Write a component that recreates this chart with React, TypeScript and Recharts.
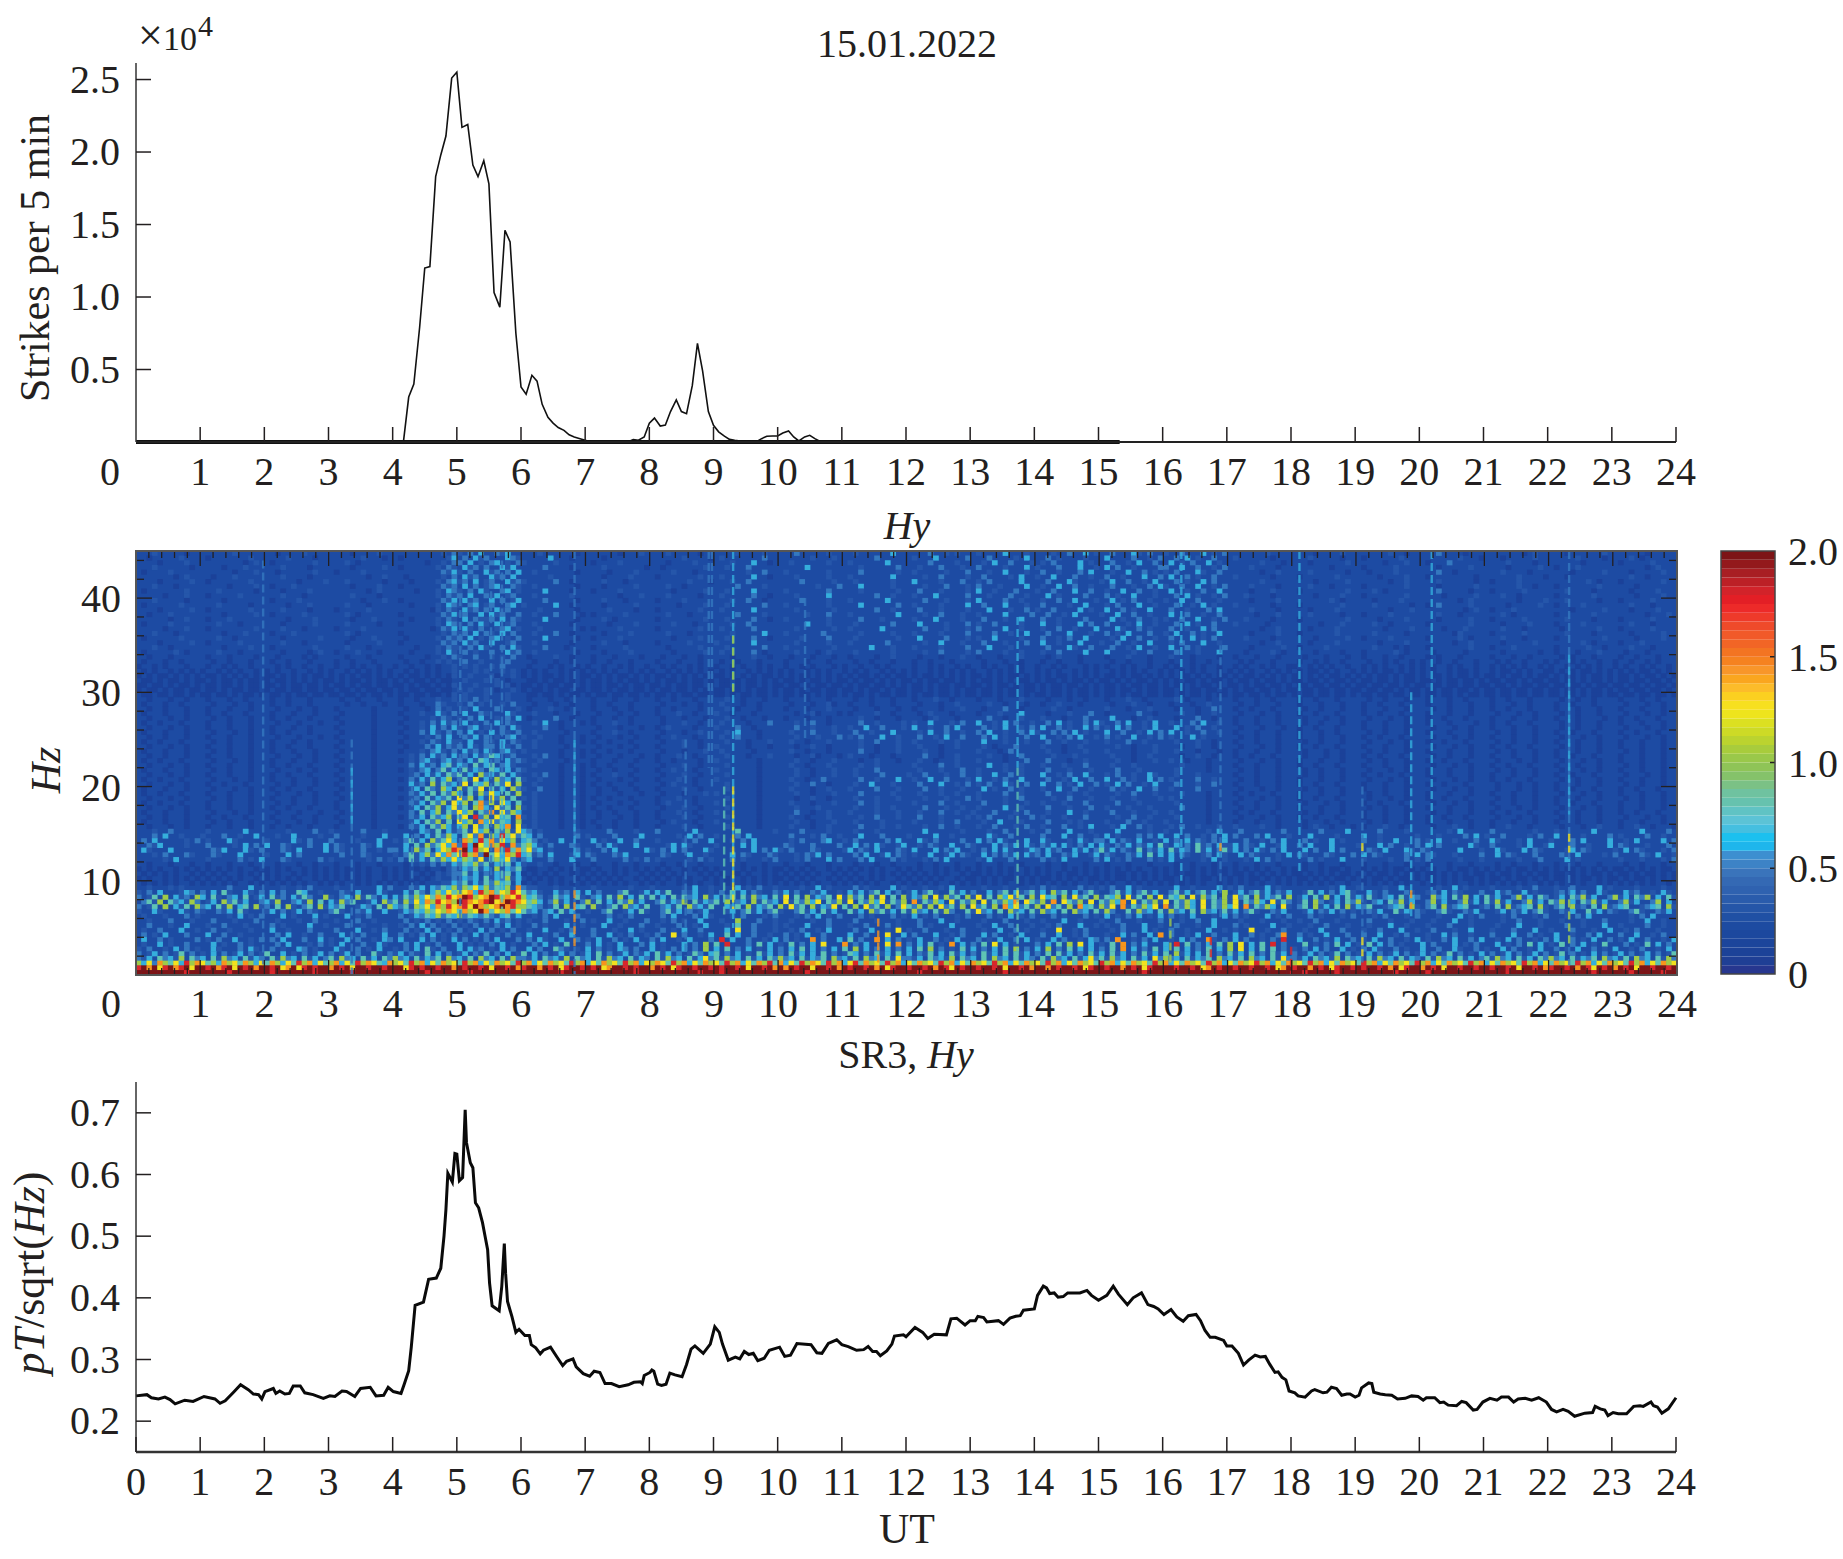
import React from 'react'
import { BarChart, Bar, LineChart, Line, ScatterChart, Scatter, XAxis, YAxis, ReferenceArea } from 'recharts'

// 5 min strike counts, x10^4
const strikeHours = [0, 4.08, 4.17, 4.25, 4.33, 4.42, 4.5, 4.58, 4.67, 4.75, 4.83, 4.92, 5, 5.08, 5.17, 5.25, 5.33, 5.42, 5.5, 5.58, 5.67, 5.75, 5.83, 5.92, 6, 6.08, 6.17, 6.25, 6.33, 6.42, 6.5, 6.58, 6.67, 6.75, 6.83, 6.92, 7, 7.08, 7.67, 7.75, 7.83, 7.92, 8, 8.08, 8.17, 8.25, 8.33, 8.42, 8.5, 8.58, 8.67, 8.75, 8.83, 8.92, 9, 9.08, 9.17, 9.25, 9.33, 9.42, 9.67, 9.75, 9.83, 9.92, 10, 10.08, 10.17, 10.25, 10.33, 10.42, 10.5, 10.58, 10.67, 15.33]
const strikeValues = [0, 0, 0.01, 0.31, 0.4, 0.79, 1.2, 1.21, 1.83, 1.98, 2.11, 2.51, 2.55, 2.17, 2.19, 1.91, 1.83, 1.94, 1.78, 1.03, 0.93, 1.46, 1.38, 0.75, 0.38, 0.33, 0.46, 0.42, 0.26, 0.17, 0.13, 0.1, 0.08, 0.05, 0.035, 0.023, 0.012, 0.002, 0.002, 0.016, 0.012, 0.035, 0.13, 0.165, 0.11, 0.117, 0.21, 0.29, 0.21, 0.195, 0.39, 0.68, 0.49, 0.21, 0.115, 0.07, 0.04, 0.018, 0.012, 0.007, 0.002, 0.023, 0.04, 0.041, 0.041, 0.062, 0.076, 0.035, 0.007, 0.035, 0.046, 0.023, 0.002, 0]
// the record stops here, the thick part of the base line
const floorHours = [0, 15.33]
const floorValues = [0, 0]

// SR3 amplitude
const srHours = [0, 0.17, 0.24, 0.35, 0.45, 0.53, 0.61, 0.76, 0.89, 1.06, 1.23, 1.31, 1.39, 1.52, 1.63, 1.75, 1.83, 1.91, 1.96, 2.01, 2.14, 2.18, 2.24, 2.32, 2.39, 2.45, 2.56, 2.63, 2.76, 2.92, 3.02, 3.1, 3.21, 3.28, 3.41, 3.5, 3.65, 3.74, 3.86, 3.93, 4.01, 4.13, 4.18, 4.25, 4.29, 4.35, 4.48, 4.56, 4.68, 4.75, 4.8, 4.83, 4.86, 4.93, 4.97, 5, 5.04, 5.09, 5.13, 5.15, 5.21, 5.25, 5.29, 5.34, 5.4, 5.44, 5.48, 5.51, 5.55, 5.66, 5.7, 5.74, 5.76, 5.79, 5.86, 5.92, 5.97, 6.06, 6.13, 6.16, 6.23, 6.3, 6.35, 6.46, 6.56, 6.65, 6.71, 6.81, 6.86, 6.97, 7.07, 7.14, 7.23, 7.31, 7.41, 7.53, 7.67, 7.76, 7.86, 7.89, 7.92, 8.01, 8.04, 8.07, 8.13, 8.19, 8.26, 8.32, 8.4, 8.51, 8.58, 8.65, 8.71, 8.84, 8.95, 9.02, 9.09, 9.14, 9.23, 9.34, 9.41, 9.48, 9.55, 9.62, 9.69, 9.79, 9.87, 10.03, 10.11, 10.2, 10.3, 10.52, 10.61, 10.69, 10.79, 10.92, 11, 11.1, 11.23, 11.34, 11.41, 11.48, 11.54, 11.6, 11.7, 11.78, 11.82, 11.96, 12, 12.14, 12.26, 12.34, 12.44, 12.63, 12.7, 12.79, 12.92, 13, 13.08, 13.12, 13.21, 13.26, 13.44, 13.52, 13.62, 13.71, 13.78, 13.83, 14, 14.05, 14.14, 14.19, 14.24, 14.31, 14.37, 14.45, 14.52, 14.71, 14.82, 14.89, 15, 15.13, 15.23, 15.31, 15.45, 15.54, 15.67, 15.77, 15.86, 15.93, 16.02, 16.13, 16.22, 16.32, 16.4, 16.52, 16.59, 16.66, 16.74, 16.82, 16.95, 17, 17.08, 17.18, 17.26, 17.34, 17.44, 17.52, 17.6, 17.67, 17.75, 17.8, 17.86, 17.92, 17.97, 18.06, 18.11, 18.22, 18.32, 18.37, 18.5, 18.56, 18.63, 18.71, 18.79, 18.87, 18.92, 19, 19.06, 19.1, 19.21, 19.26, 19.29, 19.39, 19.47, 19.57, 19.66, 19.78, 19.88, 19.98, 20.06, 20.11, 20.24, 20.32, 20.38, 20.45, 20.58, 20.66, 20.73, 20.84, 20.9, 20.99, 21.1, 21.21, 21.28, 21.39, 21.47, 21.54, 21.65, 21.75, 21.86, 21.98, 22.06, 22.14, 22.24, 22.32, 22.42, 22.58, 22.7, 22.74, 22.82, 22.89, 22.94, 23.02, 23.1, 23.23, 23.34, 23.44, 23.49, 23.61, 23.65, 23.71, 23.78, 23.88, 24]
const srValues = [0.241, 0.243, 0.238, 0.236, 0.239, 0.235, 0.228, 0.234, 0.232, 0.24, 0.236, 0.229, 0.233, 0.247, 0.259, 0.251, 0.244, 0.243, 0.236, 0.248, 0.253, 0.245, 0.249, 0.244, 0.245, 0.257, 0.257, 0.246, 0.243, 0.237, 0.241, 0.24, 0.249, 0.248, 0.24, 0.253, 0.255, 0.241, 0.242, 0.255, 0.248, 0.245, 0.26, 0.282, 0.32, 0.388, 0.393, 0.43, 0.432, 0.448, 0.5, 0.543, 0.602, 0.588, 0.634, 0.633, 0.59, 0.595, 0.705, 0.652, 0.619, 0.611, 0.554, 0.546, 0.522, 0.5, 0.478, 0.424, 0.387, 0.379, 0.418, 0.488, 0.44, 0.394, 0.369, 0.344, 0.349, 0.339, 0.339, 0.324, 0.319, 0.309, 0.315, 0.32, 0.304, 0.29, 0.297, 0.301, 0.288, 0.277, 0.273, 0.281, 0.279, 0.261, 0.261, 0.256, 0.259, 0.263, 0.264, 0.261, 0.274, 0.279, 0.283, 0.281, 0.26, 0.258, 0.26, 0.278, 0.275, 0.272, 0.292, 0.317, 0.322, 0.31, 0.325, 0.353, 0.344, 0.325, 0.299, 0.304, 0.301, 0.313, 0.308, 0.31, 0.298, 0.302, 0.315, 0.32, 0.305, 0.307, 0.326, 0.324, 0.311, 0.31, 0.326, 0.332, 0.324, 0.321, 0.315, 0.316, 0.321, 0.313, 0.313, 0.306, 0.314, 0.325, 0.338, 0.34, 0.337, 0.352, 0.344, 0.334, 0.341, 0.34, 0.366, 0.367, 0.356, 0.363, 0.363, 0.37, 0.368, 0.361, 0.363, 0.357, 0.367, 0.37, 0.371, 0.38, 0.382, 0.404, 0.419, 0.416, 0.407, 0.408, 0.401, 0.402, 0.408, 0.408, 0.412, 0.404, 0.396, 0.404, 0.419, 0.406, 0.389, 0.4, 0.408, 0.389, 0.386, 0.382, 0.373, 0.381, 0.369, 0.362, 0.371, 0.373, 0.363, 0.347, 0.336, 0.336, 0.331, 0.322, 0.322, 0.31, 0.291, 0.299, 0.307, 0.304, 0.305, 0.292, 0.279, 0.28, 0.271, 0.267, 0.249, 0.246, 0.241, 0.239, 0.249, 0.251, 0.246, 0.247, 0.255, 0.253, 0.242, 0.244, 0.244, 0.239, 0.242, 0.254, 0.262, 0.261, 0.247, 0.244, 0.243, 0.242, 0.236, 0.237, 0.241, 0.24, 0.234, 0.238, 0.238, 0.23, 0.231, 0.226, 0.225, 0.232, 0.23, 0.218, 0.219, 0.231, 0.237, 0.234, 0.239, 0.239, 0.231, 0.236, 0.237, 0.234, 0.238, 0.231, 0.219, 0.215, 0.219, 0.216, 0.208, 0.213, 0.214, 0.224, 0.22, 0.218, 0.209, 0.214, 0.212, 0.212, 0.224, 0.225, 0.224, 0.231, 0.225, 0.223, 0.213, 0.22, 0.238]

const colorbarBands = ['#27378f', '#1f3f95', '#1c4298', '#1c459b', '#1c489e', '#1d4ba1', '#2050a4', '#2556a8', '#2a5cac', '#2f62b0', '#3469b4', '#3a74bb', '#3d83c6', '#3d8fd0', '#1eb6ec', '#1cc0ef', '#45bfe0', '#5cc3d6', '#60c3c4', '#66c2ae', '#6fc2a0', '#7bc185', '#85c26a', '#8fc457', '#9ac84a', '#a8cc3c', '#bbd32f', '#cdda26', '#dce021', '#eee41d', '#f7e01f', '#fbd020', '#fcbc2a', '#faa61f', '#f8962a', '#f58220', '#f37422', '#f26526', '#f15a29', '#ef4a2a', '#ee3a2a', '#ed2a29', '#e31f26', '#d2232a', '#bc2026', '#a81e23', '#93191c', '#7d1416']
const levelColors: Record<string, string> = { '0': '#1b4199', '1': '#1d4ba3', '2': '#2556aa', '3': '#3478bf', '4': '#35aedc', '5': '#5fc3b4', '6': '#9fcb48', '7': '#f2e21e', '8': '#f7941d', '9': '#d9262a', a: '#7d1416' }

// spectrogram levels read by eye: one row per 0.5 Hz from 45 Hz down, one group per hour, 5 min per char
const heatRows = [
  // 45 - 32 Hz
  '111211111011 111111211111 110111121111 111101111211 111111111213 213141132411 111211111101 111111011121 111211111011 111121111211 111311111211 112111111411 111131121211 121111411121 111211311412 113111421311 211311141213 111111121111 111101111211 111111211011 111311110111 111111101211 111011111121 111111011111',
  '110111112111 101111111211 111121111011 111111211101 101111111124 131423111432 111114111011 111011111111 111111211110 121111111311 111111211121 111111311111 121114111113 111311112141 113121111211 141111311213 113141211311 121111110111 111211111011 101111112111 111111121110 111011111211 111112111101 111210111111',
  '111101111211 111111110121 101111111211 111210111111 111111011213 314121341213 211111211111 101111211111 111011112111 111211141101 112111111211 121111114111 111131111211 112141131112 121311114121 113112141131 141213114121 111111211101 111011111121 111110111211 101113111111 111121111011 111111011111 101111121111',
  '111211111101 111101112111 111211110111 111101111121 101111112132 142313114241 111131111011 111211111110 110111111121 112111311111 111114111111 111211111131 112111311121 131111211141 211131114112 141311211113 311411311213 111121111011 111111101111 101111121111 111011111211 111101111121 101112111111 111111012111',
  '101111211111 111111011121 110111111211 101111211111 111111111324 213114231314 112111111101 111101111211 111121110111 111111211311 121111111211 111311111121 121111121113 111211411121 131121113141 112114113121 213111421131 111111011211 111211111101 110111121111 111311011111 111211110111 111101111121 111011111211',
  '111111101211 110111211111 111211110111 111111101121 110111111213 142311423141 111112111111 111011112111 101111111211 121111141101 111211111211 121111111411 111211311112 113111121411 211411131121 131121114113 141131211311 121111110111 101111112111 111101111211 101111111101 111111211110 111011111111 111211011111',
  '111101111121 101111111211 111111011112 111211111101 111011112134 231412311423 211111311011 111211101111 111111121110 111211311111 111131111121 112111111211 141111211131 121311111411 113111421111 214113112141 113121141311 111111211111 111101111121 111111011211 111211111101 101111211111 111111121011 101111111211',
  '111211101111 111110111121 101112111111 111101111211 101111111323 141312341132 112111111101 111011111211 111211011111 111131111211 111111121113 111411111211 111211131112 131112111141 121141131121 113111211314 211311411213 111121111011 111211101111 101111111211 111011111121 111111211011 101111111211 111101111111',
  '101111111211 111211111101 111011112111 111111101211 111101112143 213142113412 111141111011 101111211111 111101111121 112111141111 121111111311 111211111121 113111211112 141121113111 211311141131 121141131121 141121131141 111101112111 101111111121 111210111111 111311111011 101111121111 111211110111 111011112111',
  '111110111211 101111121111 111211101111 111121111011 111111112132 314113241231 112111111211 111111011121 111211111011 121111131101 111211111411 111111311211 121114111113 111211131121 114121111311 131211411121 113141211213 111211110111 111101111211 101111111211 111101111121 111211011111 101111112111 111101111211',
  '111211111011 111101111111 101111211111 111111011121 101111111324 142311413124 111131111101 111211101111 101111211111 111211311011 111131111211 121111114111 111311121112 141111311211 121131141112 114121311211 211411311121 111101111211 111111121011 111011112111 111111101211 111111011112 111211111011 101111121111',
  '101111112111 111211111011 111101112111 111211101111 111011112143 213412311341 211111411011 111011111211 111110111121 112111111311 121111111211 111411111131 121111211114 113111411121 131111211411 121311141121 113112141211 121111110111 101111111211 111211111101 101311111211 111101111121 101111211111 111211101111',
  '111101111121 101111111211 111211110111 101111121111 111111102132 142313142311 111211111101 111121111011 101111111211 121111141111 111211111121 111111311211 113111211112 111411121131 211311114121 141131211411 131121113141 111121111011 111011112111 111111011121 111111110121 101112111111 111101111121 111011112111',
  '110111211111 111101111121 101111121111 111210111111 101111111324 231141423113 112111311110 101111121111 111211101111 111131111211 111112111311 121111111141 111211311121 121111411113 113112141111 211411311211 141131121131 111110111211 111211111011 101111211111 111211101111 111210111111 101111112111 111111011121',
  '111111011211 101112111111 111101111211 111101112111 111011112132 141322314132 111141111101 111210111111 101111111121 112111131101 121111111211 111311121111 121114111121 113111211411 131121111311 114121131121 211311411213 111211110111 101111111121 111101111211 111011111211 101111121111 111211110111 101111121111',
  '101111211111 111211101111 111011111211 111211111011 101111112143 213142141231 112111111011 111101111211 111121110111 111211311111 111114111211 112111111311 114111121113 121131111211 141121114131 131112141121 113141211311 121111101111 111110111211 111211011111 101111111211 111011112111 101111211111 111211101111',
  '111110111211 101111111121 111211101111 101111211111 111111101324 142131123412 111211111110 101111211111 101111111211 121111131111 111211111121 121111141111 111311121112 131111411211 121131121114 111421131211 131121141311 111111011211 111011112111 111110111121 111101112111 111211101111 110111111211 101111121111',
  '111211101111 111101112111 101112111111 111210111111 101111111213 231413214131 112111311011 111011112111 111211101111 111211111411 121111113111 111211111211 121111211113 111131121141 113111411121 131214111311 214113121141 111101111211 101111112111 111211111011 111111021111 101111121111 111211110111 111011111211',
  '101111112111 111211011111 111011111121 111101112111 110111112132 314121341213 111141111101 101111211111 111101111211 112111131101 111121111311 112111111121 114111131112 121141111211 131121311411 112141131121 131114121311 111211110111 111101111121 101111211111 101111121011 111211101111 101111111121 111101111211',
  '111101111121 101111121111 111211101111 111011111211 101111111323 142311411231 112111111011 111211101111 101111121111 211111141111 111211111211 121111113111 111211411121 113111211131 141121114111 211311211411 121311141121 111111011211 111011112111 111101111211 111111011211 111011111211 111111210111 101112111111',
  '111211011111 111101111211 101111111211 111211101111 111101112132 213142113142 111131110111 101111121111 111011111211 112111111311 121111111121 111114111211 121111211113 111411121111 113111421131 113112141121 141131211113 111101111121 101111211111 111211101011 101111111211 101112111111 101111121101 111211101111',
  '101111121011 111211101111 111011110121 101112111011 111011112142 131211311423 112111111101 111011112111 111101111121 121111131011 111211101211 112111111211 111211311112 131111211211 121131111411 141111211311 113111211141 111011112101 111101111011 101111121011 110111110111 111011111101 101110111211 110111011111',
  '110111011111 101110111101 110111101011 111011101111 101111011213 211311212131 101111211011 101110111101 110111011011 111011121101 110111011101 101111011211 110111011121 101110111211 110121110111 101112111011 121110111101 101110111011 110111011101 101110110111 101011101111 101110110111 110101110111 101101110111',
  '101110110111 110110111011 101101110111 101101110111 110110112121 131121112311 110111011011 101101110111 101110111011 101101110111 101110111011 110110111011 101101110111 110111011011 101101110111 110110111011 101110110111 110101110111 101101011011 110110101101 011011011101 110101101110 101101011011 011011010111',
  '011010111011 101101011011 110101101101 101101011011 011011010112 121211213111 101110101101 011011010110 110101101011 011010110101 101101011101 011011010111 101101011010 110101101011 011010111010 101101011011 010110101101 101011010110 011010101101 101010110101 010110101101 101010101101 011010101011 010110101101',
  '101011010101 011010101101 010110110101 011010101010 110101010112 111212112121 010101101010 101010110101 011010101010 101011010101 010110101011 010101101010 101101010101 011010101011 010101101010 110101010110 101010101101 010101101010 101001010110 101010010101 010110100101 101001010110 010101001010 101010010101',
  // 32 - 29.5 Hz
  '010100101010 100101010101 001010101001 010101001010 101001010102 112111201121 010100101010 010101001010 100101010101 001010101001 010100101010 101001010100 101001010101 001010100101 010100101010 100101001010 101001010100 101001010101 001010100101 010100101001 010010100101 001010010100 101001010010 100101001010',
  '100101001010 010100101001 010010101010 010100101001 010100101001 121112121011 100101001010 100101010010 101001010010 100101001010 100101001010 010100101010 010100100101 010010101001 010010100101 001010100101 010100101001 010010100101 001001010010 100100101001 001010010010 100100101001 001001010010 100100100101',
  '001001010010 100100101001 001010010010 100101001001 001010010102 111211121201 001010010010 100100101001 001010010010 100101001010 010010100100 101001001010 100101001001 001010010100 101001001010 100101001001 010010100101 001010010010 100100100101 001001001010 010010010010 010010100100 100100101001 001001010010',
  '010010100100 100101001001 010010010010 010010100100 101001001001 212112101121 010010100100 100101001001 010010010101 001001010010 100101001001 001010010100 100101001010 010010100100 101001010010 100100101001 001010010010 101001001010 010010010010 010010010100 100100100101 001001001001 001001010010 100100100101',
  '100100100101 001001010010 100101001001 001001010010 100100100102 121112111211 100100101001 010010010010 100101001001 001010010010 100100101001 010010100100 101001001010 010010100101 001001010010 100101001001 001010010100 100100101001 010010010010 100100100100 100100101001 001001001001 001001010010 010010010010',
  // 29.5 - 27 Hz
  '110111011011 101110110111 101101110111 110110111011 101101112112 121312111211 101110110111 101110111011 101101110111 112110111011 101110111011 110110111011 101112110111 101110111211 110111011011 101112110111 112101110111 101110110111 101101110111 110110111011 101110110111 101101110111 110110110111 101110110111',
  '101110110111 110111011011 101101110111 111011011101 101110113211 213121112131 110111011011 101101110111 110111011011 121110110111 110111011201 101110111011 110111011211 111211011101 101121110111 110111211011 101110112111 110110111011 101110111011 101101110111 101110111011 101110110111 101101110111 110111011011',
  '110110111011 101110111011 110111011011 101111110111 110111013121 121411131112 101112110111 101110110111 101101111011 112101110111 101110111211 110111011101 101111011121 110111311011 111211011111 121110111211 110111011311 101101110111 110110111011 101110111011 110110111011 101101110111 101110111011 101110111011',
  '101110111011 101101110111 101110111011 110111110111 101112114213 141132111421 112111011101 110111011011 101112110111 211011101111 111011201110 101111211011 110121110111 101112111411 110111211131 101111131101 111211011211 110111011011 101101110111 101101110111 101110111011 110111011011 110110111011 110111011011',
  '110111011011 110110111011 101101110111 101111110111 110111121321 213141121314 101111311011 101110110111 110111011101 112110111011 101110111011 111211011101 111012111011 111311011211 121110111311 114111011211 110111311011 101110111011 110111011011 110111011011 101101110111 101110111011 101110111101 101101110111',
  // 27 - 24.5 Hz
  '101101110111 101110111011 110111011101 110111110111 101112131423 141213141321 112141101110 101112110111 110111211011 121111011131 111211311011 111311211112 121141112131 141121413112 113141211314 211314112141 121113141121 101110111011 110110111011 101110111011 101110111101 101101110111 110110111011 101110111011',
  '110111011011 101110111011 101110110111 101111110111 110112141314 213412113142 111131101111 110111011101 101211110111 211131101111 111311211121 121141131112 141121131411 113121411213 141131211413 121413112141 114121311211 110111011101 101101110111 101110111011 110111011011 101110111011 110110111011 110111011011',
  '101110111011 110111011011 101101110111 110111110111 101113142131 314121413213 112111110111 101112110111 110111011211 112141110111 112111311121 113112111411 112141131121 131411211314 211313141211 141131121413 141121131121 101110111011 101110110111 110110111011 101110111011 110110111011 101101110111 101101110111',
  '110110111011 101110111011 110111011101 101111110111 110111213141 132413121341 211211101110 110111011011 101121110111 121131110111 111211121113 121311141121 113112141131 113141211131 141121314112 131211411213 121114121111 110110111011 101110111011 101101110111 110111011011 101110111011 110111011011 110111011011',
  '101101110111 110110111011 101110110111 110111110111 101112132142 214113214132 112111101110 101101110111 110111211011 112111011121 112110111211 111211311121 121111211211 114111211121 113112111211 121113112111 112111211011 101110111011 110110111011 110111011011 101101110111 110110111011 101110111011 101110111011',
  // 24.5 - 21.5 Hz
  '110111011011 101110111011 101101110111 101111110111 110111314132 314213314213 112111110111 110111011011 101111211011 211111011101 111011211011 111211011121 112111011211 112101113111 121110112111 111211011121 111011211011 110111011011 101101110111 101110111011 110111011011 101101110111 110110111011 101110111011',
  '101110111011 110110111011 101110111011 110111110111 101112134213 142314213421 211111101110 101101110111 110111011121 121111101111 112110111011 111311011121 111211011111 121110131111 112110111211 121111011121 112111011101 101110111011 110111011011 110110111011 101110111011 110110111011 101110111011 110110111011',
  '110110111011 101110111011 110111011011 101111110111 111213142314 231423541231 112131101110 110111011101 101112110111 112111011121 111011201110 121110111011 111311011211 111211011311 111211121111 112111011211 111011211011 101101110111 110111011011 101101110111 110110111011 101110111011 101101110111 101110111011',
  '101101110111 110111011011 101110111011 110111110111 101213421342 314254231423 211211110111 101110111011 101101111011 211111110111 111211011121 111011211101 112110111211 121111011131 113111011211 111211011121 121101110111 110111011011 101110111011 110110111011 101101110111 110111011011 110111011011 101110111011',
  '110111011011 101110111011 101101110111 101111110111 111314231452 431524513421 112111101110 101101110111 110111211011 112111110111 112110111211 111211211111 121111311211 111411211211 121112111311 112111211111 111211110111 101110111011 101101110111 101110111011 110111011011 101101110111 101110111011 110110111011',
  '101110111011 110110111011 110111011011 110111110111 101213413524 152431542413 211111101110 110110111011 101121110111 211111110111 111211011121 112111311111 112111211131 121111211211 113111211121 111311121111 112111110111 110110111011 110110111011 110111011011 101110111011 110110111011 110111011011 101110111011',
  // 21.5 - 19 Hz
  '110111011011 101110111011 101101110111 101111110111 111231424253 524163425142 112131101110 101112110111 110111211011 112111110111 111211011121 112111131111 211311121131 121141131211 141121311411 121311211421 112111211111 101110111011 110110111011 101101110111 101110111011 101110111011 101101110111 110111011011',
  '101101110111 110111011011 101110111011 110111110111 101314252461 352714263415 211211101110 110111011011 101112110111 211111110111 112110113111 111311211141 121141131112 141121311411 113112141131 141131211413 121111311211 110110111011 101110111011 110111011011 110111011011 101101110111 110110111011 101110111011',
  '110111011011 101101110111 110110111011 101111110111 111423162534 271546253716 112111101110 101101110111 110121110111 112111110111 111211311011 112114111211 113111411213 121311421131 141131214113 121413112141 113111211311 101110111011 101101110111 101110111011 101101110111 110111011011 101110111011 110110111011',
  '101110111011 110111011011 101101110111 110111110111 101241532641 625371524163 211311101110 110110111011 101111211011 112111110111 112111011211 121111311121 111311211121 114121131211 121141131121 113121141131 121111311111 110111011011 110110111011 101110111011 110111011011 110111011011 101101110111 101101110111',
  '101101110111 101110111011 110111011011 101111110111 111324251536 415263741526 112111101110 110111011101 110111011121 211111110111 111211011121 111311111211 112111211211 121111311211 113111211211 111211311121 111211110111 101101110111 101110111011 110110111011 101110111011 101110111011 110111011011 101110111011',
  // 19 - 15.5 Hz
  '110111011011 110110111011 101110111011 110111110111 101231524352 736142736251 212111101110 101101110111 101112110111 112111110111 111011211011 112111211121 111211121113 121111211311 111211311121 112111211112 121111110111 110111011011 101101110111 110111011011 101101110111 110110111011 101110111011 110110111011',
  '101101110111 101110111011 110110111011 101111110111 111324153627 461583627415 112111101110 110111011011 101211110111 211111110111 112111011121 111311211111 121111311211 113111211121 121112111311 111311121111 112111110111 101110111011 110111011011 101101110111 110111011011 101110111011 101101110111 101110111011',
  '110111011011 101110111011 101101110111 101111110111 101241536247 351684273516 212111101110 101101110111 110111211011 112111110111 111211121111 112111211211 111311121121 121111411211 113111211131 121112111211 111311110111 110110111011 101110111011 110110111011 101110111011 110111011011 110111011011 101110111011',
  '101110111011 110111011011 110111011101 110111110111 111315246253 746153827364 112111101110 110110111011 101112110111 211111110111 111311011211 121111211121 112111311211 211131112131 112111411211 113111211121 121111110111 101101110111 110110111011 101110111011 110110111011 101101110111 101110111011 101101110111',
  '110110111011 101101110111 101110111011 101111110111 101324153462 571936274518 212111101110 110111011011 101111211011 112111110111 112110111211 111211311121 113111211112 121311121113 121112111311 111211311211 112111110111 110111011011 101101110111 101110111011 101101110111 110111011011 110110111011 110111011011',
  '101110111011 110110111011 110111011011 110111110111 111241536251 746284735416 112111101110 101110111011 110121110111 211111110111 111211011121 112111121111 121111211311 112114111211 113111212111 121113112111 211111110111 101110111011 110111011011 110110111011 101110111011 101110111011 101110111011 101110111011',
  '110111011011 101110111011 101101110111 101111110111 101324153642 461735264817 212111101110 110110111011 101111211011 112111110111 112111011211 111311121121 111211311211 121131112131 121113112141 112141131211 121311211121 121111211011 110121101110 101112110111 110111211011 101121110111 110111011211 101121101110',
  // 15.5 - 12 Hz
  '111211311111 121111114111 111121111311 211111311121 111114325142 352746153627 431211111121 111131111211 131111114111 111151111112 111131111211 112111211111 111411111121 111211311112 113111411121 111411111211 211111112141 113111111131 111113111141 111131111211 111112141111 131111111211 121111114111 111114111131',
  '111314112111 211131121141 112114111121 131111211141 114131425364 157382649573 541311111131 211113111141 111112141311 211131411111 113111213112 111411131111 211114112111 111421131111 131114113112 141211131314 114131121314 131113141112 111411112111 141121111112 111211113141 211311112131 141111211113 121111311211',
  '131411111213 121114211111 211114213111 311112111411 213524163574 286495837462 453121141111 141211411311 121111213114 111213141111 112131113411 213111113141 114213111131 141314211141 142111214213 314132141121 413141321314 111311213141 113121141211 131121141113 121411211131 142111214111 211131411114 112141111413',
  '113241111211 131111214131 411321113114 132111321411 114152635748 394a75869283 564213111321 113142111411 111241421111 211114141111 132111311113 114131421124 112132114113 211141324142 132414213141 421324132415 214131523142 241321411241 131411141111 211141311213 141311111421 131111214112 411131121114 132111211131',
  '142111411111 113241114213 111321411114 132111311213 314263514769 8a4967283958 573412111131 211314111114 213141311142 111211141314 213111321111 241321411132 141114132411 213141421124 314231142413 524132151324 152431524135 241314213141 114131141311 113214111421 321111141112 114211141321 111241321111 214132111213',
  '111213111321 113211141111 211141311111 113111321111 213524637485 79683a574869 452314111241 321113241111 113211141121 111413211132 111213241311 113141124132 121141124132 114131324142 314113241124 132113241514 141321123142 114132111214 132111321113 141321111314 132111211113 114132111311 113214111121 311113214112',
  '111112141111 121111131214 111321111131 211111121312 131524253647 465372564731 341113111411 131111131213 121111121312 111312111213 111213111413 111314111312 111213141111 121411131111 131214111113 141213111312 141111121412 111214131211 111312111411 121111211312 131111121112 111111211131 111412111111 121112111213',
  // 12 - 9.5 Hz
  '110111011101 101110111011 110111011011 101110111011 110112131324 354635243514 211211011101 101110111011 110110111011 111110111011 101110111011 110111011011 110110111011 101110111011 110110111011 101110111011 110110111011 101110111011 110110111011 101110111011 101110111011 110110111011 101110111011 110110111011',
  '010101101010 101010101101 010101101010 101010101101 010101011023 243524162435 100110101010 010110101010 101011010101 011110101010 010101011010 101010101101 010110101010 101010101101 010110101010 101010101101 010110101010 101010101101 010110100101 101010100101 010110100101 010101001010 101001010101 001010101001',
  '101010101101 010101101010 010110101010 101010101101 010110102123 352413243514 010101011010 101010101101 010101011010 101101011010 101010101101 010110101010 101010101101 001010101101 010101001010 101001010101 010100101010 100101010101 001010101001 010100101010 100101010100 101001010100 100101010010 100101001010',
  '010110101010 101010101101 010101011010 101010101101 010101012113 243415243624 101010101101 010101011010 101010101101 010110101010 010101011010 101010101101 010101011010 010101001010 100101010100 101001010101 001010100101 010100101010 100101010010 101001010010 100101010010 100101001010 100101001010 010100101010',
  '101010101101 010101011010 101010101101 010110101010 101010111224 352425364514 010110101010 101010101101 010110101011 010110101010 101010101101 010101011010 101010110101 010101011010 101010101101 010110101010 101010101101 010101011010 101010101101 101010101011 010101011010 101010101101 010101011010 101010101101',
  // 9.5 - 6 Hz
  '112111212111 111113111411 111211213111 121111111413 111324143546 365746354628 322111211111 121111112111 211111214112 111141213112 111121141211 113121111412 111211214111 112111211112 131211113121 213114121111 114112111141 213111141211 111111121411 211112114111 111211412111 121111211311 121131111412 111121111211',
  '213141112431 314152114213 141311541121 113214111421 114253146475 678496857697 534211423141 413111351124 142511324112 131514132113 241311324112 142413514131 241352115241 311413514235 241635141352 113524135241 135241352416 124135241324 112514131452 114213111321 123141321113 114231141211 123141311421 114231121421',
  '312516142316 415213415124 152314253116 213416253141 425364758697 8a9678a96879 645312534152 134152614152 514152534162 413515263415 271516243517 263516271516 243617263516 271516473516 274516273516 254617251617 254617263516 273516243516 124152614152 415213415243 116341526141 524113624153 124153624113 624153614152',
  '135261534263 124163524113 426113426151 426351124163 526374869786 a98789a78a98 756413624113 625141536241 135243615243 516134162534 172536471536 271536472536 182536417253 617253648175 362817536271 536481725362 715364172536 271536417253 125163124153 621341536241 136241136241 526241136241 536141536241 136241136141',
  '312516142516 341526145162 315162135162 435112431526 435265748697 897a8678a896 654312516145 162135163425 113425163425 114351624351 627351624371 526173526137 536261735261 735261847352 617352618452 637182536471 825364172536 471825364172 135162415162 435112345162 135162345112 315162345162 135162315162 345112345162',
  '211421114213 211324152111 241312413211 352113241141 124354657687 5867a8576857 534134152411 211351124152 113524131241 112413524135 211352415241 152416352415 263415263115 273415163415 263415163415 263115263415 263415163415 241352113241 112413241312 113241152413 211352113241 112413241352 113241152413 211352113241',
  '121112111312 111112141213 111412111412 111412131111 131243546354 635435324524 112131411131 111131213111 113141113142 111213111213 111213141213 111312111312 141213111213 111312141213 111312111312 141213141214 131214111214 131211141213 111312111213 111213111213 111211141213 111213111213 111213141111 111213141111',
  // 6 - 2 Hz
  '112111311121 113111211131 112111211311 121113112111 113121312131 213213142312 121131112113 121141121113 112131211411 121161113112 112111211311 113111211121 113111411211 112111311121 121114112111 211311121113 111211311411 112111211121 121131112111 113111211121 112111411211 111211311121 112111211131 111211411211',
  '113111211411 121131112111 131211114112 111311211121 121314131213 121312131412 113121114112 111411211131 121113112141 112151131112 121114111311 121131113121 113121114111 121141131112 112131114112 121131114112 113111211411 131211114112 111211311121 112111411211 121113111211 112111411121 111311211141 121111311211',
  '121131114112 113112111211 141121113111 131114112131 113121413121 312141312131 121141121311 131112114121 113121411311 114171131112 112131121411 113114112171 211311121131 112114113121 121171121311 112131114121 131121114112 121171121131 112114111311 121131114112 113111211411 121113111411 211131112114 112131112111',
  '131214111311 141131121111 113141121131 114121311141 131213141213 121413121312 141121311411 131141213112 131171311214 115141131121 131214113111 141131117114 131114112131 114131121411 131141121311 121141311418 131121411311 141131211381 131211411131 131141121311 121141311211 131114113121 141121131411 131141121311',
  '141131211113 121311411213 131411131141 211413112143 141114131214 131213141113 131421141131 214113121411 314112141113 191411311214 131211813114 151311814131 214113121411 131214113141 211413112143 131811213141 121413118213 141311213191 141131214113 121411311214 121131411314 112141311213 141131214113 121411311214',
  '121141211311 114121131211 113141112131 214111311421 113141213111 412121314121 113141215111 314121411131 412111413161 519111315141 215131417111 813141117181 314151218141 315171412111 314151617141 215181314111 419151314151 617141519131 115121315141 215141312111 413111412131 114121315141 215131412151 113121514131',
  '213112141312 114211131421 131211431211 142113121411 213141521311 414231214131 141311532121 413121431311 412131413161 415131412141 314151413141 516141314131 415161312151 413141516131 416131514141 315181413151 415141315141 617141515131 213141311412 131421131211 411311421131 211413112141 131214113121 411213112141',
  '312413125131 214131241312 511412131241 312413115213 241321514131 241325131412 514131241312 415131241324 152413125314 513141215241 315241415131 254131524151 413251415241 315241515241 315152413152 415241315241 516241415131 524151315241 312413125131 214131241312 413125131214 131241312413 125131214131 241312413125',
  // 2 - 0 Hz
  '324153426153 415263415243 152634152413 526341524153 634152435163 425163415263 324153426153 415263415243 152634152473 526341524153 634152435163 425163415273 324153426153 415263415243 152634152473 526341524173 634152435163 425163415273 324153426153 415263415243 152634152413 526341524153 634152435163 425163415263',
  '647386574968 756486758647 586475968475 684759687548 675968475867 596847586759 684758675968 475867596847 687596847586 759684758695 847596875968 479586759684 758675968475 867596847586 759684758675 968475867596 847586759684 758679684758 675968475867 596847586759 684758675968 475867596847 586759684758 675968475867',
  '9a8a79a89a7a a9a89a7a9a8a a9a78a79a9aa 8a9a7aa9aa9a aa79a9aa9aa8 a9aa9a7aa9a8 9aa8a9a79aa9 a9a78aa9a9aa 8a9a79aa9aa9 a9aa9a7aa9a8 a8a9aa7aa9a8 a9aa9a8a79aa 9aa9a8a97a9a a9aa9a7aa9a8 aa8a9aa9a79a a9aa8a9a79aa aa9aa9a78a9a a9aa9aa9a78a 9aa8a9a79aa9 a9aa9a8a79aa 8a9a7aa9aa9a a9aa9a7aa9a8 9aa9a8a97a9a 8a9a7aa9aa9a',
  'aaaaaaaaa9aa aaaaa9aaaaaa a9aaaaaaa9aa aaaa9aaaaaaa aaaaaa9aaaaa aa9aaaaaaaaa aaaaaaa9aaaa aaaaaaaaa9aa aaaaaaaaa9aa a9aaaaaaaaaa aaaaa9aaaaaa aaaaaaaaaaaa aa9aaaaaaaaa aaaaaa9aaaaa aaaaaaaaaaaa aaaaaaaa9aaa aaaaaaaaaaaa aaaaaaaaaaaa aa9aaaaa9aaa aaaaaaa9aaaa a9aaaaaaaaaa aaaa9aaaaaaa aaaaaaaa9aaa aaa9aaaaa9aa',
]

// thin vertical streaks: hour, from Hz, to Hz, level
const streakHours = [1.98, 3.36, 3.36, 4.3, 5.05, 5.53, 5.7, 5.7, 6.83, 6.83, 6.83, 8.56, 8.92, 8.97, 9.16, 9.3, 9.3, 9.3, 10.42, 11.56, 13.73, 13.73, 13.73, 16.11, 16.28, 16.74, 16.89, 16.89, 17.99, 18.12, 19.1, 19.1, 19.1, 19.86, 19.86, 20.18, 22.32, 22.32, 22.32, 22.32]
const streakFrom = [1, 0, 16, 9, 6, 10, 20, 7, 0, 12, 3, 2, 22, 20, 6, 5, 30, 7, 25, 1, 22, 2, 7, 1, 10, 1, 6, 13, 0, 11, 1, 13, 2, 6, 7, 9, 1, 17, 3, 13]
const streakTo = [44, 25, 22, 20, 40, 42, 44, 20, 45, 25, 9, 25, 45, 45, 20, 45, 36, 20, 40, 6, 38, 22, 9, 6, 45, 4, 35, 14, 3, 45, 20, 14, 4, 30, 9, 45, 45, 34, 8, 15]
const streakLevels = ['3', '3', '4', '3', '3', '3', '3', '5', '3', '4', '8', '3', '3', '3', '5', '4', '6', '7', '3', '8', '4', '5', '7', '6', '4', '9', '3', '8', '9', '4', '3', '7', '7', '4', '8', '4', '3', '4', '6', '7']

const hourLabels = Array.from({ length: 25 }, (_, i) => i)
const minorHours = Array.from({ length: 121 }, (_, i) => i / 5)
const strikeTicks = [0.5, 1, 1.5, 2, 2.5]
const heatTicks = Array.from({ length: 22 }, (_, i) => (i + 1) * 2)
const srTicks = [0.2, 0.3, 0.4, 0.5, 0.6, 0.7]
const barTicks = [0, 0.5, 1, 1.5, 2]

const FONT = '"Liberation Serif", serif'
const INK = '#231f20'
const PLOT_W = 1541
const HEAT_H = 424

const strikeRows = strikeHours.map((hour, i) => ({ hour, value: strikeValues[i] }))
const floorRows = floorHours.map((hour, i) => ({ hour, floor: floorValues[i] }))
const srRows = srHours.map((hour, i) => ({ hour, value: srValues[i] }))
// level 1 is the plot background, so those cells are left out
const heatCells = heatRows.flatMap((row, t) =>
  row.replace(/ /g, '').split('').map((level, c) => ({
    hour: (c + 0.5) / 12,
    hz: 45 - 0.5 * (t + 0.5),
    level,
  })),
).filter((cell) => cell.level !== '1')
const streakRows = streakHours.map((hour, i) => ({
  hour,
  hz: (streakFrom[i] + streakTo[i]) / 2,
  span: streakTo[i] - streakFrom[i],
  level: streakLevels[i],
}))
const barRow: Record<string, number> = { c: 0 }
colorbarBands.forEach((_, i) => { barRow[`b${i}`] = 2 / colorbarBands.length })

const cellW = PLOT_W / 288 + 0.4
const cellH = HEAT_H / 90 + 0.4

function HeatCell({ cx, cy, payload }: any) {
  return <rect x={cx - cellW / 2} y={cy - cellH / 2} width={cellW} height={cellH} fill={levelColors[payload.level]} />
}

function StreakCell({ cx, cy, payload }: any) {
  const h = (payload.span * HEAT_H) / 45
  return <line x1={cx} x2={cx} y1={cy - h / 2} y2={cy + h / 2} stroke={levelColors[payload.level]} strokeWidth={2.4} strokeDasharray="8 4" strokeOpacity={0.8} />
}

const hourTick = (zeroShift: number, hideZeroMark: boolean) => ({ x, y, payload }: any) => {
  const v = payload.value
  if (v === 0 && hideZeroMark) {
    return <text x={x + zeroShift} y={y + 43} textAnchor="middle" fontSize={40} fontFamily={FONT} fill={INK}>0</text>
  }
  return (
    <g>
      <line x1={x} x2={x} y1={y} y2={y - 15} stroke={INK} strokeWidth={1.5} />
      <text x={x} y={y + 43} textAnchor="middle" fontSize={40} fontFamily={FONT} fill={INK}>{v}</text>
    </g>
  )
}

const heatHourTick = ({ x, y, payload }: any) => {
  const v = payload.value
  const major = Number.isInteger(v)
  const len = major ? 15 : 7
  return (
    <g>
      <line x1={x} x2={x} y1={y} y2={y - len} stroke={INK} strokeWidth={1.3} />
      <line x1={x} x2={x} y1={y - HEAT_H} y2={y - HEAT_H + len} stroke={INK} strokeWidth={1.3} />
      {major && <text x={v === 0 ? x - 25 : x} y={y + 42} textAnchor="middle" fontSize={40} fontFamily={FONT} fill={INK}>{v}</text>}
    </g>
  )
}

const heatHzTick = ({ x, y, payload }: any) => {
  const v = payload.value
  const major = v % 10 === 0
  const len = major ? 16 : 8
  return (
    <g>
      <line x1={x} x2={x + len} y1={y} y2={y} stroke={INK} strokeWidth={1.3} />
      <line x1={x + PLOT_W - len} x2={x + PLOT_W} y1={y} y2={y} stroke={INK} strokeWidth={1.3} />
      {major && <text x={x - 15} y={y + 14} textAnchor="end" fontSize={40} fontFamily={FONT} fill={INK}>{v}</text>}
    </g>
  )
}

const valueTick = ({ x, y, payload }: any) => (
  <g>
    <line x1={x} x2={x + 15} y1={y} y2={y} stroke={INK} strokeWidth={1.5} />
    <text x={x - 16} y={y + 13} textAnchor="end" fontSize={40} fontFamily={FONT} fill={INK}>{payload.value.toFixed(1)}</text>
  </g>
)

const barTick = ({ x, y, payload }: any) => {
  const v = payload.value
  return (
    <g>
      {v > 0 && v < 2 && <line x1={x - 5} x2={x} y1={y} y2={y} stroke={INK} strokeWidth={1.5} />}
      <text x={x + 13} y={y + 14} textAnchor="start" fontSize={40} fontFamily={FONT} fill={INK}>{v === 0 ? '0' : v.toFixed(1)}</text>
    </g>
  )
}

const panel = (top: number): React.CSSProperties => ({ position: 'absolute', left: 0, top })

export default function App() {
  return (
    <div style={{ position: 'absolute', left: 0, top: 0, width: 1843, height: 1559, background: '#fff', overflow: 'hidden' }}>
      <div style={panel(0)}>
        <LineChart width={1843} height={500} data={strikeRows} margin={{ top: 63, right: 167, bottom: 57, left: 135 }}>
          <XAxis dataKey="hour" type="number" domain={[0, 24]} ticks={hourLabels} interval={0} height={1} tickSize={0} tickMargin={0} tickLine={false} stroke="#222" strokeWidth={2} tick={hourTick(-26, true)} />
          <YAxis type="number" domain={[0, 2.614]} ticks={strikeTicks} interval={0} width={1} tickSize={0} tickMargin={0} tickLine={false} stroke="#333" strokeWidth={1.5} tick={valueTick} />
          <Line data={floorRows} dataKey="floor" type="linear" dot={false} stroke="#111" strokeWidth={4} isAnimationActive={false} />
          <Line dataKey="value" type="linear" dot={false} stroke="#111" strokeWidth={1.6} isAnimationActive={false} />
        </LineChart>
      </div>

      <div style={panel(520)}>
        <ScatterChart width={1843} height={520} margin={{ top: 31, right: 166, bottom: 64, left: 135 }}>
          <ReferenceArea x1={0} x2={24} y1={0} y2={45} fill={levelColors['1']} fillOpacity={1} stroke="none" />
          <Scatter data={heatCells} dataKey="hz" shape={HeatCell} isAnimationActive={false} />
          <Scatter data={streakRows} dataKey="hz" shape={StreakCell} isAnimationActive={false} />
          <XAxis dataKey="hour" type="number" domain={[0, 24]} ticks={minorHours} interval={0} height={1} tickSize={0} tickMargin={0} tickLine={false} axisLine={false} tick={heatHourTick} />
          <YAxis dataKey="hz" type="number" domain={[0, 45]} ticks={heatTicks} interval={0} width={1} tickSize={0} tickMargin={0} tickLine={false} axisLine={false} tick={heatHzTick} />
        </ScatterChart>
      </div>

      <div style={{ position: 'absolute', left: 1700, top: 520 }}>
        <BarChart width={143} height={520} data={[barRow]} barCategoryGap={0} margin={{ top: 31, right: 67, bottom: 66, left: 21 }}>
          <XAxis dataKey="c" hide />
          <YAxis orientation="right" type="number" domain={[0, 2]} ticks={barTicks} interval={0} width={1} tickSize={0} tickMargin={0} tickLine={false} axisLine={false} tick={barTick} />
          {colorbarBands.map((color, i) => (
            <Bar key={color} dataKey={`b${i}`} stackId="scale" fill={color} isAnimationActive={false} />
          ))}
        </BarChart>
      </div>

      <div style={panel(1060)}>
        <LineChart width={1843} height={460} data={srRows} margin={{ top: 22, right: 167, bottom: 67, left: 135 }}>
          <XAxis dataKey="hour" type="number" domain={[0, 24]} ticks={hourLabels} interval={0} height={1} tickSize={0} tickMargin={0} tickLine={false} stroke="#333" strokeWidth={2.5} tick={hourTick(0, false)} />
          <YAxis type="number" domain={[0.15, 0.75]} ticks={srTicks} interval={0} width={1} tickSize={0} tickMargin={0} tickLine={false} stroke="#333" strokeWidth={1.5} tick={valueTick} />
          <Line dataKey="value" type="linear" dot={false} stroke="#0a0a0a" strokeWidth={3} isAnimationActive={false} />
        </LineChart>
      </div>

      <svg width={1843} height={1559} style={{ position: 'absolute', left: 0, top: 0, pointerEvents: 'none' }} fontFamily={FONT} fill={INK}>
        <rect x={136} y={551} width={1541} height={424} fill="none" stroke="#555" strokeWidth={2} />
        <rect x={1721} y={551} width={54} height={423} fill="none" stroke="#444" strokeWidth={1.5} />
        <text x={907} y={57} textAnchor="middle" fontSize={40}>15.01.2022</text>
        <text x={138} y={50} fontSize={44}>×</text>
        <text x={163} y={50} fontSize={34}>10</text>
        <text x={198} y={36} fontSize={30}>4</text>
        <text x={49} y={258} textAnchor="middle" fontSize={42} transform="rotate(-90 49 258)">Strikes per 5 min</text>
        <text x={907} y={539} textAnchor="middle" fontSize={40} fontStyle="italic">Hy</text>
        <text x={60} y={770} textAnchor="middle" fontSize={42} fontStyle="italic" transform="rotate(-90 60 770)">Hz</text>
        <text x={906} y={1068} textAnchor="middle" fontSize={40}>SR3, <tspan fontStyle="italic">Hy</tspan></text>
        <text x={44} y={1273} textAnchor="middle" fontSize={44} transform="rotate(-90 44 1273)"><tspan fontStyle="italic">pT</tspan>/sqrt(<tspan fontStyle="italic">Hz</tspan>)</text>
        <text x={907} y={1543} textAnchor="middle" fontSize={42}>UT</text>
      </svg>
    </div>
  )
}
